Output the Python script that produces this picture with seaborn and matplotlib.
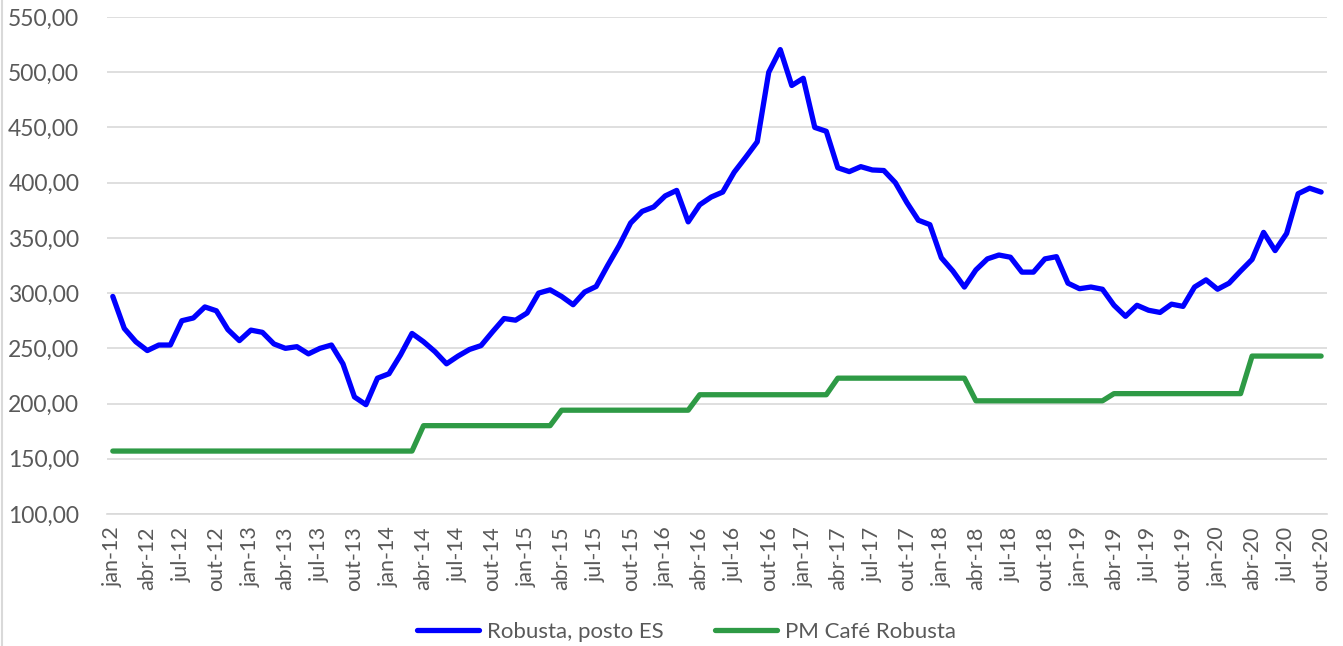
import matplotlib
matplotlib.use("Agg")
import matplotlib.pyplot as plt
import seaborn as sns
import pandas as pd
from matplotlib.lines import Line2D
from matplotlib.ticker import FixedLocator, FuncFormatter

# monthly series, jan-12 .. out-20
month_names = ["jan", "fev", "mar", "abr", "mai", "jun",
               "jul", "ago", "set", "out", "nov", "dez"]
years = ["12", "13", "14", "15", "16", "17", "18", "19", "20"]
months = [f"{m}-{y}" for y in years for m in month_names][:106]

robusta_es = [
    297, 268, 256, 248, 253, 253, 275, 277.5, 287.5, 284, 267, 257,      # 2012
    266.5, 264.5, 254, 250, 251.5, 245, 250, 253, 236, 206, 199, 223,    # 2013
    227, 244, 263.5, 256, 247, 236, 243, 249, 252.5, 265, 277, 275.5,    # 2014
    282, 300, 303, 297, 289.5, 301, 306, 325, 343, 363.5, 374, 378,      # 2015
    388, 393, 364.5, 380, 387, 391.5, 409.5, 423, 437, 500, 520.5, 488,  # 2016
    494.5, 450, 446.5, 413.5, 410, 414.5, 411.5, 411, 400, 382, 366, 362,  # 2017
    332, 320, 305.5, 321, 331, 334.5, 332.5, 319, 319, 331, 333, 309,    # 2018
    304, 305.5, 303.5, 289, 279, 289, 284.5, 282.5, 290, 288, 305.5, 312,  # 2019
    303.5, 309, 320, 330.5, 355, 338.5, 354, 390, 395, 391.5,            # 2020
]

pm_cafe = [
    157, 157, 157, 157, 157, 157, 157, 157, 157, 157, 157, 157,
    157, 157, 157, 157, 157, 157, 157, 157, 157, 157, 157, 157,
    157, 157, 157, 180, 180, 180, 180, 180, 180, 180, 180, 180,
    180, 180, 180, 194, 194, 194, 194, 194, 194, 194, 194, 194,
    194, 194, 194, 208, 208, 208, 208, 208, 208, 208, 208, 208,
    208, 208, 208, 223, 223, 223, 223, 223, 223, 223, 223, 223,
    223, 223, 223, 202.5, 202.5, 202.5, 202.5, 202.5, 202.5, 202.5, 202.5, 202.5,
    202.5, 202.5, 202.5, 209, 209, 209, 209, 209, 209, 209, 209, 209,
    209, 209, 209, 243, 243, 243, 243, 243, 243, 243,
]

df = pd.DataFrame({"idx": range(len(months)), "mes": months,
                   "Robusta, posto ES": robusta_es, "PM Café Robusta": pm_cafe})

sns.set_style("white")
plt.rcParams["font.family"] = ["Lato", "DejaVu Sans"]

fig = plt.figure(figsize=(13.43, 6.46), dpi=100)
ax = fig.add_axes([0.0797, 0.2043, 0.9083, 0.7694])

sns.lineplot(data=df, x="idx", y="Robusta, posto ES", ax=ax, color="#0000ff",
             linewidth=3.8, label="Robusta, posto ES")
sns.lineplot(data=df, x="idx", y="PM Café Robusta", ax=ax, color="#2e9a45",
             linewidth=3.8, label="PM Café Robusta")
for ln in ax.get_lines():
    ln.set_solid_capstyle("round")
    ln.set_solid_joinstyle("round")

ax.set_xlim(-0.5, len(months) - 0.5)
ax.set_ylim(100, 550)
ax.set_yticks(range(100, 551, 50))
ax.yaxis.set_major_formatter(FuncFormatter(lambda v, p: f"{v:.2f}".replace(".", ",")))
ax.grid(axis="y", color="#d9d9d9", linewidth=1.2)
ax.set_axisbelow(True)

# labels centred on the categories, tick marks on the category boundaries
ax.set_xticks(range(0, len(months), 3))
ax.set_xticklabels(months[::3], rotation=90)
ax.xaxis.set_minor_locator(FixedLocator([k - 0.5 for k in range(0, len(months) + 1, 3)]))
ax.tick_params(axis="x", which="major", length=0, pad=9, labelsize=15.5, labelcolor="#595959")
ax.tick_params(axis="x", which="minor", length=7, width=1.2, color="#d9d9d9")
ax.tick_params(axis="y", length=0, pad=20, labelsize=16.5, labelcolor="#595959")

for s in ["left", "right", "top"]:
    ax.spines[s].set_visible(False)
ax.spines["bottom"].set_color("#d9d9d9")
ax.spines["bottom"].set_linewidth(1.2)
ax.set_xlabel("")
ax.set_ylabel("")

handles, labels = ax.get_legend_handles_labels()
ax.get_legend().remove()
fig.legend(handles, labels, loc="center", bbox_to_anchor=(0.511, 0.022), ncol=2,
           frameon=False, fontsize=16, handlelength=2.8, handletextpad=0.35,
           columnspacing=2.3, labelcolor="#595959")

fig.add_artist(Line2D([0.0015, 0.0015], [0, 1], transform=fig.transFigure,
                      color="#d9d9d9", linewidth=1.5))

fig.savefig("out.png", dpi=100)
